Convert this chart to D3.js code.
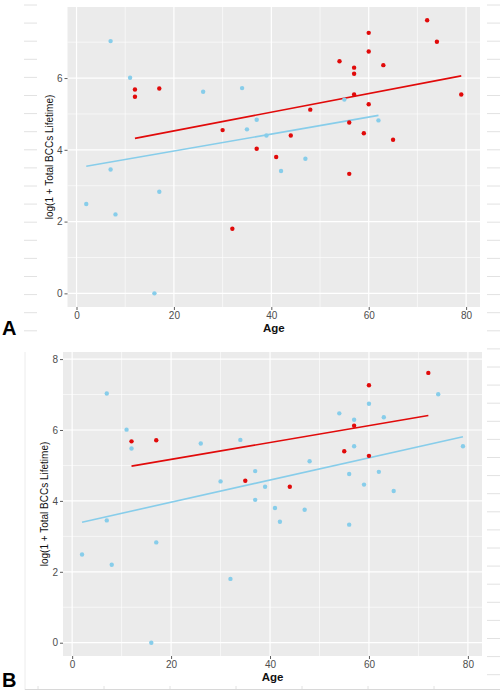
<!DOCTYPE html>
<html>
<head>
<meta charset="utf-8">
<script src="https://cdn.jsdelivr.net/npm/d3@7"></script>
<style>
html,body{margin:0;padding:0;background:#fff;}
svg{display:block;font-family:"Liberation Sans",Arial,sans-serif;}
</style>
</head>
<body>
<svg id="chart" width="500" height="691"></svg>
<script>
// ---- data ----
const ages   = [2,7,7,8,11,12,12,16,17,17,26,30,32,34,35,37,37,39,41,42,44,47,48,54,55,56,56,57,57,57,59,60,60,60,62,63,65,72,74,79];
const values = [2.49,7.03,3.45,2.20,6.01,5.68,5.48,0,5.71,2.83,5.62,4.55,1.80,5.72,4.57,4.84,4.03,4.40,3.80,3.41,4.40,3.75,5.12,6.47,5.40,4.76,3.33,6.29,6.12,5.54,4.46,7.26,6.74,5.27,4.82,6.36,4.28,7.61,7.01,5.54];
const groupA = ["b","b","b","b","b","r","r","b","r","b","b","r","r","b","b","b","r","b","r","b","r","b","r","r","b","r","r","r","r","r","r","r","r","r","b","r","r","r","r","r"];
const groupB = ["b","b","b","b","b","r","b","b","r","b","b","b","b","b","r","b","b","b","b","b","r","b","b","b","r","b","b","b","r","b","b","r","b","r","b","b","b","r","b","b"];
// fitted lines: [x1, y1, x2, y2]
const fitA_red  = [12, 4.32, 79, 6.06];
const fitA_blue = [2, 3.54, 62, 4.96];
const fitB_red  = [12, 4.98, 72, 6.41];
const fitB_blue = [2, 3.40, 79, 5.81];
const xTicks = [0,20,40,60,80];
const yTicksA = [0,2,4,6];
const yTicksB = [0,2,4,6,8];
const xTitle = "Age";
const yTitle = "log(1 + Total BCCs Lifetime)";

const RED = "#e10a0a", BLUE = "#87cdea";
const svg = d3.select("#chart");

// faint background artifacts (frame of an underlying figure)
const art = svg.append("g").attr("stroke","#e2e2e2").attr("stroke-width",1);
d3.range(5, 335, 18.1).forEach(y => art.append("line").attr("x1",24).attr("x2",37).attr("y1",y).attr("y2",y));
d3.range(5, 690, 18.1).forEach(y => art.append("line").attr("x1",487).attr("x2",500).attr("y1",y).attr("y2",y));
art.append("line").attr("x1",25).attr("x2",25).attr("y1",352).attr("y2",690).attr("stroke","#ececec");
art.append("line").attr("x1",25).attr("x2",500).attr("y1",689.5).attr("y2",689.5).attr("stroke","#d8d8d8");
d3.range(38, 500, 66).forEach(x => art.append("line").attr("x1",x).attr("x2",x).attr("y1",686).attr("y2",689));

function panel(cfg){
  const x = d3.scaleLinear().domain([-1.85, 82.85]).range([cfg.left, cfg.right]);
  const y = d3.scaleLinear().domain(cfg.ydom).range([cfg.bottom, cfg.top]);
  const g = svg.append("g");
  g.append("rect").attr("x",cfg.left).attr("y",cfg.top)
    .attr("width",cfg.right-cfg.left).attr("height",cfg.bottom-cfg.top).attr("fill","#ebebeb");
  // minor grid
  const xMinor = [10,30,50,70];
  const yMinor = cfg.yticks.slice(0,-1).map(v=>v+1).concat([cfg.yticks[cfg.yticks.length-1]+1]).filter(v=>v<cfg.ydom[1]);
  g.selectAll(".xm").data(xMinor).join("line").attr("x1",d=>x(d)).attr("x2",d=>x(d))
    .attr("y1",cfg.top).attr("y2",cfg.bottom).attr("stroke","#fff").attr("stroke-width",0.6);
  g.selectAll(".ym").data(yMinor).join("line").attr("y1",d=>y(d)).attr("y2",d=>y(d))
    .attr("x1",cfg.left).attr("x2",cfg.right).attr("stroke","#fff").attr("stroke-width",0.6);
  // major grid
  g.selectAll(".xM").data(xTicks).join("line").attr("x1",d=>x(d)).attr("x2",d=>x(d))
    .attr("y1",cfg.top).attr("y2",cfg.bottom).attr("stroke","#fff").attr("stroke-width",1.2);
  g.selectAll(".yM").data(cfg.yticks).join("line").attr("y1",d=>y(d)).attr("y2",d=>y(d))
    .attr("x1",cfg.left).attr("x2",cfg.right).attr("stroke","#fff").attr("stroke-width",1.2);
  // axes
  const xa = g.append("g").attr("transform",`translate(0,${cfg.bottom})`)
    .call(d3.axisBottom(x).tickValues(xTicks).tickSize(3).tickPadding(2).tickFormat(d3.format("d")));
  const ya = g.append("g").attr("transform",`translate(${cfg.left},0)`)
    .call(d3.axisLeft(y).tickValues(cfg.yticks).tickSize(3).tickPadding(2).tickFormat(d3.format("d")));
  [xa,ya].forEach(a=>{
    a.select(".domain").remove();
    a.selectAll(".tick line").attr("stroke","#333").attr("stroke-width",0.8);
    a.selectAll(".tick text").attr("fill","#4d4d4d").style("font-size","10px").style("font-family","Liberation Sans, Arial, sans-serif");
  });
  // fit lines
  [[cfg.fitBlue,BLUE],[cfg.fitRed,RED]].forEach(([f,c])=>{
    g.append("line").attr("x1",x(f[0])).attr("y1",y(f[1])).attr("x2",x(f[2])).attr("y2",y(f[3]))
      .attr("stroke",c).attr("stroke-width",1.6);
  });
  // points
  const pts = ages.map((a,i)=>({a, v:values[i], grp:cfg.group[i]}));
  g.selectAll(".pt").data(pts).join("circle")
    .attr("cx",d=>x(d.a)).attr("cy",d=>y(d.v)).attr("r",2.2)
    .attr("fill",d=>d.grp==="r"?RED:BLUE);
  // titles
  g.append("text").attr("x",(cfg.left+cfg.right)/2).attr("y",cfg.bottom+25)
    .attr("text-anchor","middle").attr("font-weight","bold").attr("font-size",11.5).attr("fill","#111").text(xTitle);
  g.append("text").attr("transform",`translate(${cfg.ytx},${(cfg.top+cfg.bottom)/2}) rotate(-90)`)
    .attr("text-anchor","middle").attr("font-size",10).attr("fill","#111").text(yTitle);
  g.append("text").attr("x",2).attr("y",cfg.letterY).attr("font-weight","bold")
    .attr("font-size",20).attr("fill","#000").text(cfg.letter);
}

panel({left:67.5,right:480,top:7,bottom:307,ydom:[-0.38,7.98],yticks:yTicksA,group:groupA,
  fitRed:fitA_red,fitBlue:fitA_blue,ytx:53,letter:"A",letterY:335});
panel({left:63,right:482,top:352,bottom:656,ydom:[-0.375,8.2],yticks:yTicksB,group:groupB,
  fitRed:fitB_red,fitBlue:fitB_blue,ytx:48,letter:"B",letterY:687});
</script>
</body>
</html>
